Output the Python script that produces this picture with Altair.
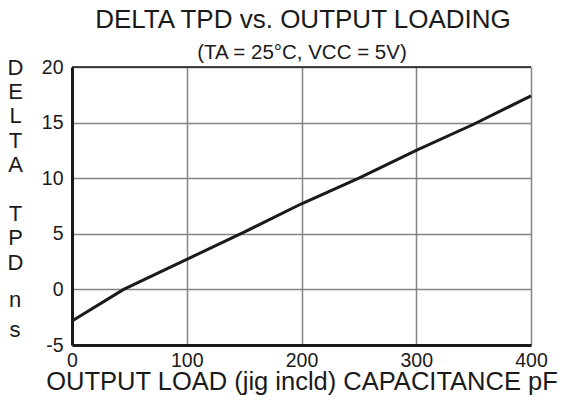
import altair as alt
import pandas as pd

load_pf = [0, 45, 100, 150, 200, 250, 300, 350, 400]
delta_tpd = [-2.85, 0.0, 2.7, 5.15, 7.7, 10.0, 12.5, 14.85, 17.4]
x_ticks = [0, 100, 200, 300, 400]
y_ticks = [-5, 0, 5, 10, 15, 20]
y_title_letters = ["D", "E", "L", "T", "A", "\u200b", "T", "P", "D"]
unit_letters = ["n", "s"]
chart_title = ["DELTA TPD vs. OUTPUT LOADING"]
chart_subtitle = ["(TA = 25°C, VCC = 5V)"]

df = pd.DataFrame({"load": load_pf, "tpd": delta_tpd})
FONT = "Liberation Sans"
INK = "#1a1a1a"

base = alt.Chart(df)

line = base.mark_line(color=INK, strokeWidth=3).encode(
    x=alt.X("load:Q", scale=alt.Scale(domain=[0, 400], nice=False),
            axis=alt.Axis(values=x_ticks, title="OUTPUT LOAD (jig incld) CAPACITANCE pF",
                          titleFontSize=25.5, titleFontWeight="normal", titleFont=FONT,
                          titleColor=INK, titlePadding=0,
                          labelFontSize=19.5, labelFont=FONT, labelColor=INK,
                          labelPadding=6, tickSize=0, domainColor=INK,
                          domainWidth=3, gridColor="#858585", gridWidth=1.5,
                          labelFlush=False)),
    y=alt.Y("tpd:Q", scale=alt.Scale(domain=[-5, 20], nice=False),
            axis=alt.Axis(values=y_ticks, title=y_title_letters, titleAngle=0,
                          titleAlign="center", titleBaseline="top",
                          titleX=-57, titleY=-10, titleLineHeight=24.4,
                          titleFontSize=22, titleFontWeight="normal", titleFont=FONT,
                          titleColor=INK, labelExpr="datum.value",
                          labelFontSize=19.5, labelFont=FONT, labelColor=INK,
                          labelPadding=9, tickSize=0, domainColor=INK,
                          domainWidth=3, gridColor="#858585", gridWidth=1.5)),
)

top = alt.Chart(pd.DataFrame({"v": [20]})).mark_rule(color=INK, strokeWidth=1.5).encode(
    y=alt.Y("v:Q")
)

title_txt = alt.Chart(pd.DataFrame({"t": chart_title})).mark_text(
    font=FONT, fontSize=26, color=INK, align="center", baseline="alphabetic"
).encode(text="t:N", x=alt.value(231), y=alt.value(-39))

subtitle_txt = alt.Chart(pd.DataFrame({"t": chart_subtitle})).mark_text(
    font=FONT, fontSize=20.5, color=INK, align="center", baseline="alphabetic"
).encode(text="t:N", x=alt.value(230), y=alt.value(-8))

unit_n = alt.Chart(pd.DataFrame({"t": unit_letters[:1]})).mark_text(
    font=FONT, fontSize=22, color=INK, align="center", baseline="alphabetic"
).encode(text="t:N", x=alt.value(-57), y=alt.value(240))

unit_s = alt.Chart(pd.DataFrame({"t": unit_letters[1:]})).mark_text(
    font=FONT, fontSize=22, color=INK, align="center", baseline="alphabetic"
).encode(text="t:N", x=alt.value(-57), y=alt.value(270))

chart = alt.layer(top, line, title_txt, subtitle_txt, unit_n, unit_s).properties(
    width=459, height=278,
    padding={"left": 64, "top": 59, "right": 28, "bottom": 50},
    autosize=alt.AutoSizeParams(type="none"),
).configure_view(stroke="#858585", strokeWidth=1.5).configure(background="white")

chart.save("out.html", embed_options={"renderer": "svg", "actions": False})
